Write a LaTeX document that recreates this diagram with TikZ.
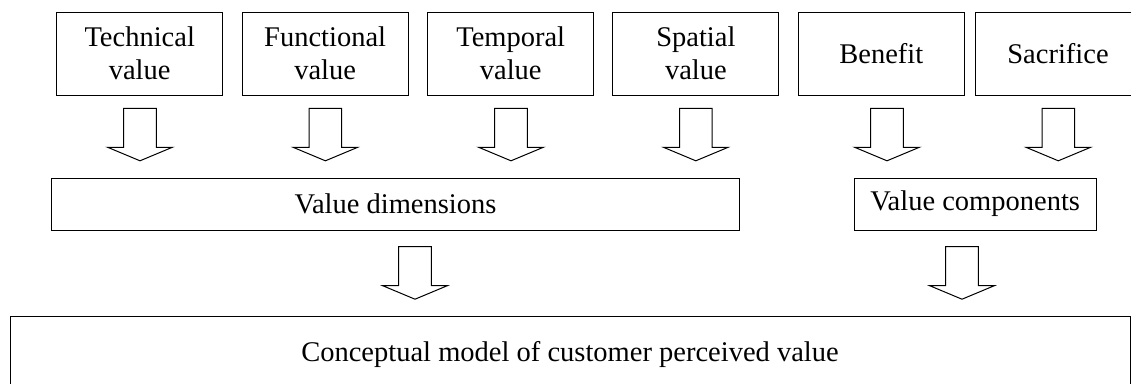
\documentclass[tikz,border=0pt]{standalone}
\usepackage{fontspec}
\setmainfont{Liberation Serif}
\begin{document}
\begin{tikzpicture}[x=1pt,y=-1pt,
  box/.style={draw=black,line width=1pt,inner sep=0pt,align=center,
    font=\fontsize{28.5}{33}\selectfont,text=black},
  topbox/.style={box,minimum width=166pt,minimum height=82.7pt},
  midbox/.style={box,minimum height=52pt},
  arrowline/.style={draw=black,line width=1pt,line join=miter,fill=white},
  barrow/.pic={\draw[arrowline] (-16.3,0) -- (16.3,0) -- (16.3,39) -- (32.3,39)
     -- (0,52.5) -- (-32.3,39) -- (-16.3,39) -- cycle;}
]
\useasboundingbox (0,0) rectangle (1131,383);
\clip (0,0) rectangle (1131,383);
\node[topbox] (tech) at (139.7,53.65) {Technical\\value};
\node[topbox] (func) at (325.15,53.65) {Functional\\value};
\node[topbox] (temp) at (510.7,53.65) {Temporal\\value};
\node[topbox] (spat) at (695.85,53.65) {Spatial\\value};
\node[topbox] (bene) at (881.3,53.65) {Benefit};
\node[topbox] (sacr) at (1058,53.65) {Sacrifice};
\node[midbox,minimum width=687.6pt] (dim) at (395.5,204) {Value dimensions};
\node[midbox,minimum width=241.7pt] (comp) at (975.15,204) {Value components};
\node[box,minimum width=1120pt,minimum height=76pt] (model) at (570,354) {Conceptual model of customer perceived value};
\coordinate (a1) at (140,108.3);
\coordinate (a2) at (325.4,108.3);
\coordinate (a3) at (511,108.3);
\coordinate (a4) at (695.8,108.3);
\coordinate (a5) at (887,108.3);
\coordinate (a6) at (1058.3,108.3);
\coordinate (a7) at (415,246.7);
\coordinate (a8) at (962,246.7);
\foreach \c in {a1,a2,a3,a4,a5,a6,a7,a8} \pic at (\c) {barrow};
\end{tikzpicture}
\end{document}
